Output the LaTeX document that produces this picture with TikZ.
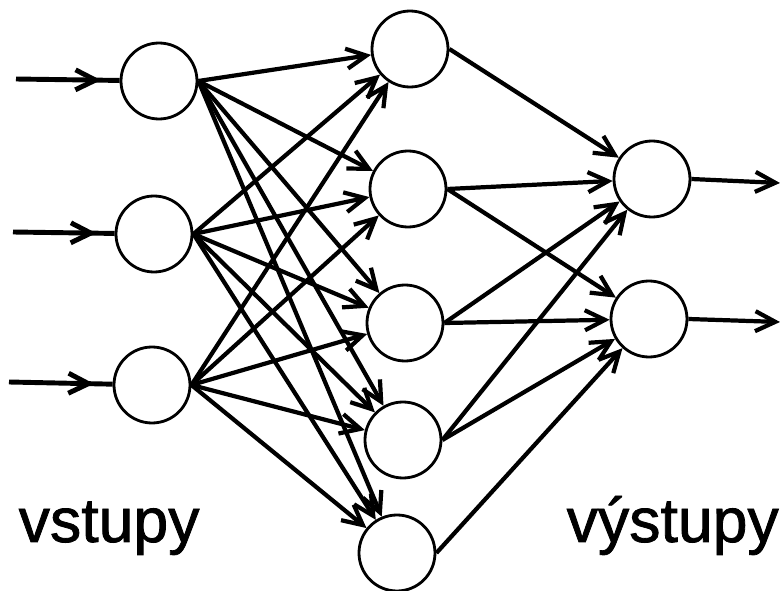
\documentclass[tikz,border=0pt]{standalone}
\usepackage{fontspec}
\setmainfont{Liberation Sans}
\newfontfamily\capfont{Liberation Sans}[FakeBold=1.3]
\usetikzlibrary{arrows.meta, decorations.markings}

\begin{document}
\begin{tikzpicture}[
    neuron/.style={circle, draw, line width=0.8pt, minimum size=0.76cm, inner sep=0pt},
    link/.style={line width=1.2pt, -{Straight Barb[length=2mm,width=2mm]}},
    inlink/.style={line width=1.4pt, postaction={decorate},
        decoration={markings, mark=at position 0.82 with {\arrow{Straight Barb[length=2mm,width=2mm]}}}},
    caption/.style={anchor=base west, inner sep=0pt, font=\capfont\fontsize{17.8}{20}\selectfont}
]
\useasboundingbox (0,0) rectangle (7.81,5.91);

% Input layer
\node[neuron] (i1) at (1.59,5.10) {};
\node[neuron] (i2) at (1.54,3.57) {};
\node[neuron] (i3) at (1.52,2.06) {};

% Hidden layer
\node[neuron] (h1) at (4.10,5.42) {};
\node[neuron] (h2) at (4.08,4.02) {};
\node[neuron] (h3) at (4.05,2.68) {};
\node[neuron] (h4) at (4.03,1.51) {};
\node[neuron] (h5) at (3.97,0.38) {};

% Output layer
\node[neuron] (o1) at (6.52,4.12) {};
\node[neuron] (o2) at (6.49,2.72) {};

% Inputs
\coordinate (x1) at (0.16,5.12);
\coordinate (x2) at (0.13,3.59);
\coordinate (x3) at (0.09,2.09);
\foreach \i in {1,2,3}
    \draw[inlink] (x\i) -- (i\i);

% Input -> hidden
\foreach \i in {1,2,3}
    \foreach \j in {1,...,5}
        \draw[link] (i\i.east) -- (h\j);

% Hidden -> output
\foreach \j/\k in {1/1, 2/1, 2/2, 3/1, 3/2, 4/1, 4/2, 5/2}
    \draw[link] (h\j.east) -- (o\k);

% Outputs
\coordinate (y1) at (7.80,4.08);
\coordinate (y2) at (7.80,2.69);
\draw[link] (o1.east) -- (y1);
\draw[link] (o2.east) -- (y2);

% Labels
\node[caption] (lin) at (0.18,0.49) {vstupy};
\node[caption] (lout) at (5.66,0.49) {výstupy};
\end{tikzpicture}
\end{document}
